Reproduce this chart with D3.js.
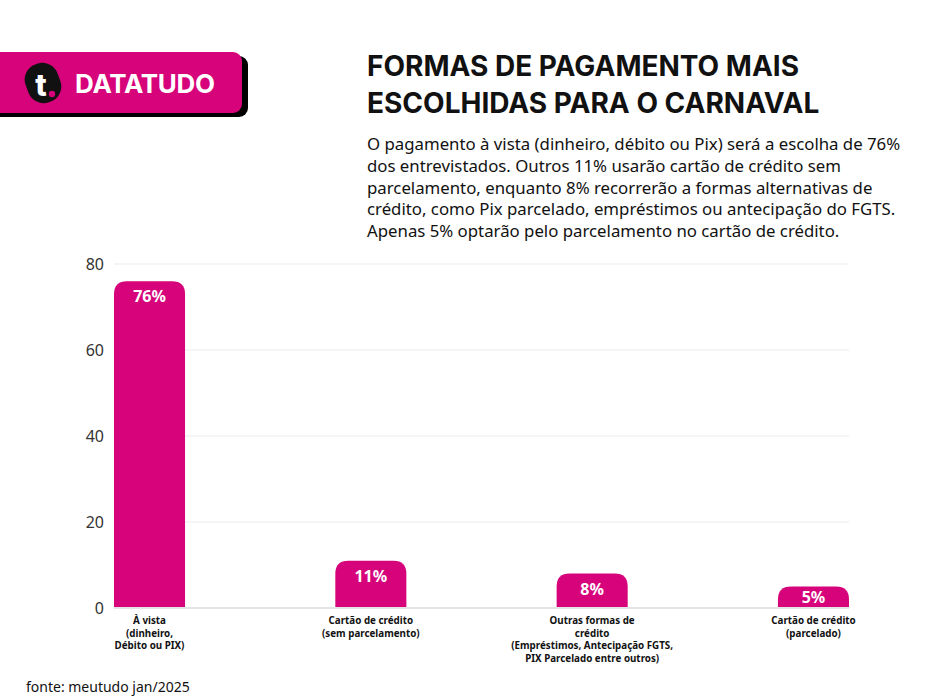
<!DOCTYPE html>
<html><head><meta charset="utf-8">
<script src="https://cdn.jsdelivr.net/npm/d3@7"></script>
<style>body{margin:0;background:#fff;}svg{display:block;}</style>
</head><body>
<svg id="c" width="950" height="697"></svg>
<script>
const categories = [
  ["À vista","(dinheiro,","Débito ou PIX)"],
  ["Cartão de crédito","(sem parcelamento)"],
  ["Outras formas de","crédito","(Empréstimos, Antecipação FGTS,","PIX Parcelado entre outros)"],
  ["Cartão de crédito","(parcelado)"]
];
const values = [76, 11, 8, 5];
const valueLabels = ["76%","11%","8%","5%"];
const yTicks = [0, 20, 40, 60, 80];
const title = ["FORMAS DE PAGAMENTO MAIS","ESCOLHIDAS PARA O CARNAVAL"];
const subtitle = [
  "O pagamento à vista (dinheiro, débito ou Pix) será a escolha de 76%",
  "dos entrevistados. Outros 11% usarão cartão de crédito sem",
  "parcelamento, enquanto 8% recorrerão a formas alternativas de",
  "crédito, como Pix parcelado, empréstimos ou antecipação do FGTS.",
  "Apenas 5% optarão pelo parcelamento no cartão de crédito."
];
const source = "fonte: meutudo jan/2025";

const PINK = "#d6037b";
const svg = d3.select("#c");

// Logo
const logo = svg.append("g");
logo.append("rect").attr("x",-20).attr("y",56).attr("width",268).attr("height",61).attr("rx",9).attr("fill","#000");
logo.append("rect").attr("x",-20).attr("y",52).attr("width",262).attr("height",61).attr("rx",9).attr("fill",PINK);
logo.append("rect").attr("x",26).attr("y",63).attr("width",34).attr("height",40).attr("rx",16)
  .attr("transform","rotate(-20,43,83)").attr("fill","#111");
logo.append("text").attr("x",41).attr("y",96).attr("text-anchor","middle")
  .attr("font-family","Inter, sans-serif").attr("font-weight",800).attr("font-size",30).attr("fill","#fff").text("t");
logo.append("circle").attr("cx",52).attr("cy",94).attr("r",3.2).attr("fill",PINK);
logo.append("text").attr("x",75).attr("y",93).attr("font-family","Inter, sans-serif").attr("font-weight",700)
  .attr("font-size",26).attr("fill","#fff").attr("textLength",140).text("DATATUDO");

// Title
svg.append("g").selectAll("text").data(title).join("text")
  .attr("x",367).attr("y",(d,i)=>76+i*37)
  .attr("font-family","Inter, sans-serif").attr("font-weight",700).attr("font-size",28).attr("fill","#111")
  .text(d=>d);

svg.append("g").selectAll("text").data(subtitle).join("text")
  .attr("x",367).attr("y",(d,i)=>150+i*21.8)
  .attr("font-family","'Noto Sans', sans-serif").attr("font-size",16.8).attr("fill","#111")
  .text(d=>d);

// Chart
const x = d3.scaleBand().domain(d3.range(values.length)).range([114,849]).paddingInner(0.679).paddingOuter(0);
const y = d3.scaleLinear().domain([0,80]).range([608,264]);

const grid = svg.append("g");
grid.selectAll("line").data(yTicks).join("line")
  .attr("x1",114).attr("x2",849).attr("y1",d=>y(d)).attr("y2",d=>y(d))
  .attr("stroke",d=>d===0?"#e4e4e4":"#ececec").attr("stroke-width",d=>d===0?2:1.2);

const yAxis = svg.append("g").attr("transform","translate(104,0)")
  .call(d3.axisLeft(y).tickValues(yTicks).tickSize(0).tickPadding(0).tickFormat(d3.format("d")));
yAxis.select(".domain").remove();
yAxis.selectAll("text").attr("font-family","'Noto Sans', sans-serif").attr("font-size",16).attr("fill","#333").attr("dy","0.35em");

const r = 13;
function barPath(x0,w,yt,yb){
  const rr = Math.min(r, (yb-yt), w/2);
  return `M${x0},${yb}V${yt+rr}Q${x0},${yt} ${x0+rr},${yt}H${x0+w-rr}Q${x0+w},${yt} ${x0+w},${yt+rr}V${yb}Z`;
}
svg.append("g").selectAll("path").data(values).join("path")
  .attr("d",(d,i)=>barPath(x(i),x.bandwidth(),y(d),y(0)-1))
  .attr("fill",PINK);

svg.append("g").selectAll("text").data(values).join("text")
  .attr("x",(d,i)=>x(i)+x.bandwidth()/2).attr("y",d=>Math.min(y(d)+21, y(0)-5))
  .attr("text-anchor","middle").attr("font-family","'Noto Sans', sans-serif").attr("font-weight",700)
  .attr("font-size",16).attr("fill","#fff").text((d,i)=>valueLabels[i]);

const cat = svg.append("g").selectAll("text").data(categories).join("text")
  .attr("x",(d,i)=>x(i)+x.bandwidth()/2).attr("y",624)
  .attr("text-anchor","middle").attr("font-family","'Noto Sans', sans-serif").attr("font-weight",700)
  .attr("font-size",9.8).attr("fill","#111");
cat.selectAll("tspan").data(d=>d).join("tspan")
  .attr("x",function(){return this.parentNode.getAttribute("x");})
  .attr("dy",(d,i)=>i===0?0:12.5).text(d=>d);

svg.append("text").attr("x",26).attr("y",692).attr("font-family","'Noto Sans', sans-serif")
  .attr("font-size",14).attr("fill","#111").text(source);
</script>
</body></html>
